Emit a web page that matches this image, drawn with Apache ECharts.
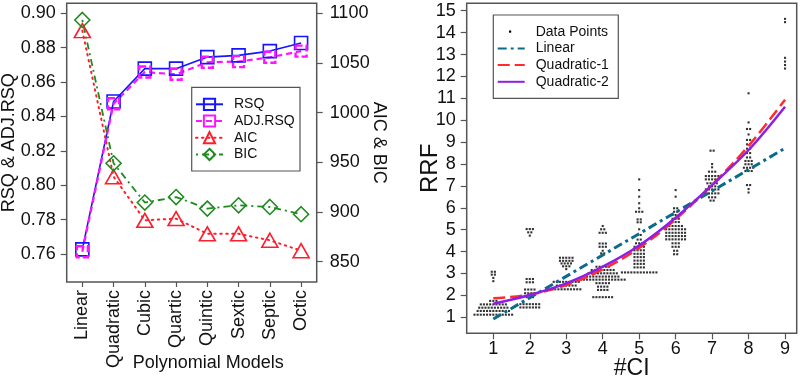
<!DOCTYPE html>
<html><head><meta charset="utf-8">
<script src="https://cdn.jsdelivr.net/npm/echarts@6/dist/echarts.min.js"></script>
<style>html,body{margin:0;padding:0;background:#fff}#c{width:800px;height:379px}</style>
</head><body><div id="c"></div>
<script>
// ---------- Left chart data ----------
const models = ['Linear','Quadratic','Cubic','Quartic','Quintic','Sextic','Septic','Octic'];
const rsq    = [0.7627, 0.8487, 0.8678, 0.8678, 0.8745, 0.8755, 0.8780, 0.8827];
const adjRsq = [0.7613, 0.8474, 0.8658, 0.8645, 0.8715, 0.8719, 0.8744, 0.8780];
const aic    = [1082.5, 935.5, 891.6, 893.3, 878.0, 878.0, 871.5, 861.0];
const bic    = [1093.2, 949.0, 909.5, 915.0, 903.4, 906.7, 905.0, 897.7];
const rsqTicks = [0.76, 0.78, 0.80, 0.82, 0.84, 0.86, 0.88, 0.90];
const icTicks  = [850, 900, 950, 1000, 1050, 1100];

// ---------- Right chart data ----------
const ciTicks  = [1, 2, 3, 4, 5, 6, 7, 8, 9];
const rrfTicks = [1, 2, 3, 4, 5, 6, 7, 8, 9, 10, 11, 12, 13, 14, 15];
const fitX     = [1, 2, 3, 4, 5, 6, 7, 8, 9];
const linearX  = [1, 9];
const linearY  = [0.92, 8.72];
const quad1    = [1.87, 2.04, 2.47, 3.19, 4.17, 5.48, 7.05, 8.83, 10.94];
const quad2    = [1.62, 2.02, 2.55, 3.31, 4.28, 5.55, 7.04, 8.64, 10.62];
// RRF observations per #CI: [RRF value, number of points with that value]
const rrf1 = [[3.08,2],[2.95,2],[2.80,1],[2.65,1],[1.75,3],[1.59,9],[1.44,10],[1.29,11],[1.12,13]];
const rrf2 = [[5.03,3],[4.88,2],[4.73,1],[2.75,3],[2.60,3],[2.27,4],[2.10,4],[1.92,3],[1.60,7],[1.45,7]];
const rrf3 = [[3.72,5],[3.58,5],[3.46,4],[3.33,3],[3.20,1],[2.62,9],[2.45,7],[2.28,10]];
const rrf4 = [[5.17,1],[5.02,2],[4.86,3],[4.37,3],[4.22,3],[4.04,1],[3.92,2],[3.31,5],[3.16,8],[3.01,10],[2.86,11],[2.72,15],[2.56,5],[2.40,4],[2.25,4],[1.92,7]];
const rrf5 = [[7.30,1],[6.81,1],[6.51,1],[6.21,1],[5.98,1],[5.82,3],[5.47,2],[5.34,2],[5.02,1],[4.76,2],[4.55,2],[4.38,3],[4.22,4],[4.06,4],[3.90,4],[3.75,4],[3.59,4],[3.44,4],[3.28,4],[3.05,12]];
const rrf6 = [[6.81,1],[6.51,1],[5.98,2],[5.82,2],[5.67,3],[5.50,3],[5.35,3],[5.17,5],[5.02,7],[4.86,7],[4.71,7],[4.56,7],[4.38,3],[4.22,3],[4.04,2],[3.88,2]];
const rrf7 = [[8.61,2],[8.00,1],[7.85,1],[7.65,3],[7.45,5],[7.30,5],[7.12,4],[6.98,3],[6.84,5],[6.66,5],[6.48,3],[6.33,2]];
const rrf8 = [[11.23,1],[9.90,1],[9.60,2],[9.35,1],[9.10,2],[8.90,2],[8.70,2],[8.50,2],[8.30,2],[8.14,3],[7.99,3],[7.83,4],[7.68,3],[7.04,2],[6.86,1],[6.70,1]];
const rrf9 = [[14.63,1],[14.48,1],[12.85,1],[12.68,1],[12.52,1],[12.36,1]];

// ---------- build ----------
const FONT = 'Liberation Sans, Arial, Helvetica, sans-serif';
const groups = [rrf1, rrf2, rrf3, rrf4, rrf5, rrf6, rrf7, rrf8, rrf9];
const DX = 0.086; // swarm spacing in #CI units
const points = [];
groups.forEach((rows, gi) => {
  const g = ciTicks[gi];
  rows.forEach(([v, n]) => {
    for (let i = 0; i < n; i++) points.push([g + (i - (n - 1) / 2) * DX, v]);
  });
});

const BLUE = '#1515ff', MAG = '#ff14ff', RED = '#ff1e2d', GREEN = '#1f8a1f';
const TEAL = '#0b6b8a', QRED = '#ff2a2a', PURP = '#8e1ee6';
const BOX = '#555';
const T = { fontSize: 18, color: '#111', fontFamily: FONT };

function tickAxis(extra) {
  return Object.assign({
    axisLine: { show: false },
    splitLine: { show: false },
    nameMoveOverlap: false
  }, extra);
}
function ticks(vals, len) {
  return { show: true, length: len, customValues: vals, lineStyle: { color: BOX, width: 1.2 } };
}

const option = {
  backgroundColor: '#fff',
  animation: false,
  textStyle: { fontFamily: FONT, color: '#111' },
  grid: [
    { left: 66.7, top: 3.3, width: 250, height: 278.7, show: true, borderColor: BOX, borderWidth: 1.5, outerBoundsMode: 'none', containLabel: false },
    { left: 466.7, top: 3.3, width: 330, height: 330, show: true, borderColor: BOX, borderWidth: 1.5, outerBoundsMode: 'none', containLabel: false }
  ],
  xAxis: [
    tickAxis({
      type: 'category', gridIndex: 0, data: models, boundaryGap: true,
      axisTick: { show: true, alignWithLabel: true, length: 5, lineStyle: { color: BOX, width: 1.2 } },
      axisLabel: Object.assign({ rotate: 90, margin: 8, interval: 0 }, T),
      name: 'Polynomial Models', nameLocation: 'middle', nameGap: 72,
      nameTextStyle: Object.assign({ padding: [0, 0, 0, 33] }, T)
    }),
    tickAxis({
      type: 'value', gridIndex: 1, min: 0.27, max: 9.32,
      axisTick: ticks(ciTicks, 6),
      axisLabel: Object.assign({ customValues: ciTicks, margin: 7 }, T),
      name: '#CI', nameLocation: 'middle', nameGap: 24,
      nameTextStyle: { fontSize: 23, color: '#111', fontFamily: FONT }
    })
  ],
  yAxis: [
    tickAxis({
      type: 'value', gridIndex: 0, position: 'left', min: 0.7437, max: 0.9058,
      axisTick: ticks(rsqTicks, 6),
      axisLabel: Object.assign({ customValues: rsqTicks, margin: 11, formatter: v => v.toFixed(2) }, T),
      name: 'RSQ & ADJ.RSQ', nameLocation: 'middle', nameGap: 49, nameRotate: 90,
      nameTextStyle: T
    }),
    tickAxis({
      type: 'value', gridIndex: 0, position: 'right', min: 829.5, max: 1110,
      axisTick: ticks(icTicks, 6),
      axisLabel: Object.assign({ customValues: icTicks, margin: 13, formatter: v => String(v) }, T),
      name: 'AIC & BIC', nameLocation: 'middle', nameGap: 53, nameRotate: -90,
      nameTextStyle: T
    }),
    tickAxis({
      type: 'value', gridIndex: 1, min: 0.27, max: 15.34,
      axisTick: ticks(rrfTicks, 6),
      axisLabel: Object.assign({ customValues: rrfTicks, margin: 11, formatter: v => String(v) }, T),
      name: 'RRF', nameLocation: 'middle', nameGap: 24, nameRotate: 90,
      nameTextStyle: { fontSize: 24, color: '#111', fontFamily: FONT }
    })
  ],
  legend: [
    {
      data: ['RSQ', 'ADJ.RSQ', 'AIC', 'BIC'], orient: 'vertical', left: 195, top: 97.3,
      padding: 0, itemWidth: 27, itemHeight: 14, itemGap: 2.7,
      textStyle: { fontSize: 14, color: '#111', fontFamily: FONT, padding: [0, 0, 0, 6] }
    },
    {
      data: ['Data Points', 'Linear', 'Quadratic-1', 'Quadratic-2'], orient: 'vertical', left: 496.7, top: 24.7,
      padding: 0, itemWidth: 27, itemHeight: 14, itemGap: 2.7,
      itemStyle: { opacity: 0 },
      textStyle: { fontSize: 14, color: '#111', fontFamily: FONT, padding: [0, 0, 0, 6] }
    }
  ],
  graphic: [
    { type: 'rect', shape: { x: 191.7, y: 87.3, width: 108.3, height: 83.7 }, style: { fill: 'none', stroke: BOX, lineWidth: 1.2 } },
    { type: 'rect', shape: { x: 493.3, y: 15, width: 125, height: 83.3 }, style: { fill: 'none', stroke: BOX, lineWidth: 1.2 } },
    { type: 'rect', shape: { x: 509, y: 30.5, width: 2.2, height: 2.2 }, style: { fill: '#000' } }
  ],
  series: [
    {
      name: 'RSQ', type: 'line', xAxisIndex: 0, yAxisIndex: 0, data: rsq,
      symbol: 'rect', symbolSize: 13,
      lineStyle: { color: BLUE, width: 1.6 },
      itemStyle: { color: 'rgba(255,255,255,0)', borderColor: BLUE, borderWidth: 1.6 }
    },
    {
      name: 'ADJ.RSQ', type: 'line', xAxisIndex: 0, yAxisIndex: 0, data: adjRsq,
      symbol: 'rect', symbolSize: 11,
      lineStyle: { color: MAG, width: 2.2, type: [6, 4] },
      itemStyle: { color: 'rgba(255,255,255,0)', borderColor: MAG, borderWidth: 2.4, borderType: [7, 3] }
    },
    {
      name: 'AIC', type: 'line', xAxisIndex: 0, yAxisIndex: 1, data: aic,
      symbol: 'triangle', symbolSize: [16, 14],
      lineStyle: { color: RED, width: 2, type: [1.5, 4.5], cap: 'round' },
      itemStyle: { color: 'rgba(255,255,255,0)', borderColor: RED, borderWidth: 1.6 }
    },
    {
      name: 'BIC', type: 'line', xAxisIndex: 0, yAxisIndex: 1, data: bic,
      symbol: 'diamond', symbolSize: [15, 15],
      lineStyle: { color: GREEN, width: 1.8, type: [2, 4, 7, 4] },
      itemStyle: { color: 'rgba(255,255,255,0)', borderColor: GREEN, borderWidth: 1.6 }
    },
    {
      name: 'Data Points', type: 'scatter', xAxisIndex: 1, yAxisIndex: 2, data: points,
      symbol: 'rect', symbolSize: 2.1, itemStyle: { color: '#000' }, z: 1
    },
    {
      name: 'Linear', type: 'line', xAxisIndex: 1, yAxisIndex: 2,
      data: linearX.map((x, i) => [x, linearY[i]]), showSymbol: false, symbol: 'none',
      lineStyle: { color: TEAL, width: 3, type: [9, 4, 3, 4] }, itemStyle: { color: TEAL }, z: 3
    },
    {
      name: 'Quadratic-1', type: 'line', xAxisIndex: 1, yAxisIndex: 2,
      data: fitX.map((x, i) => [x, quad1[i]]), showSymbol: false, symbol: 'none', smooth: 0.35,
      lineStyle: { color: QRED, width: 2.5, type: [12, 5] }, itemStyle: { color: QRED }, z: 3
    },
    {
      name: 'Quadratic-2', type: 'line', xAxisIndex: 1, yAxisIndex: 2,
      data: fitX.map((x, i) => [x, quad2[i]]), showSymbol: false, symbol: 'none', smooth: 0.35,
      lineStyle: { color: PURP, width: 2.5 }, itemStyle: { color: PURP }, z: 4
    }
  ]
};
const chart = echarts.init(document.getElementById('c'), null, { renderer: 'canvas' });
chart.setOption(option);
</script></body></html>
